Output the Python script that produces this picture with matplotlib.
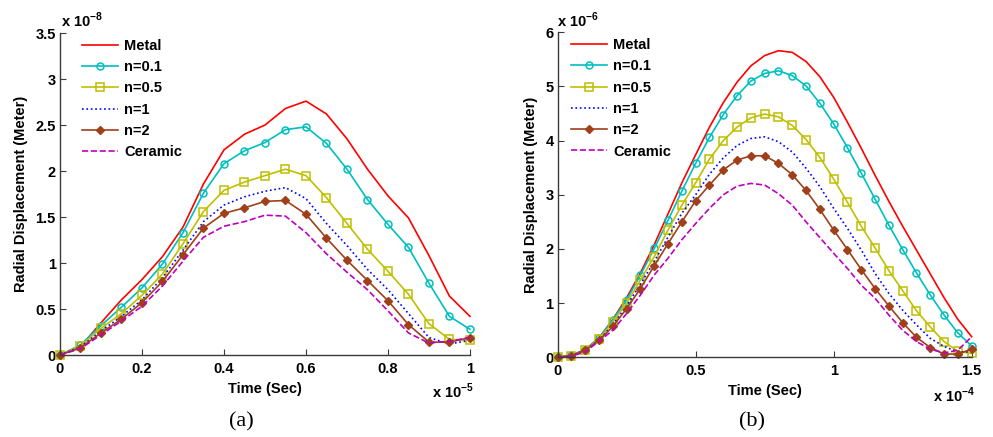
import numpy as np
import matplotlib
matplotlib.use('Agg')
import matplotlib.pyplot as plt

plt.rcParams['font.family'] = ['Liberation Sans', 'DejaVu Sans']
plt.rcParams['mathtext.fontset'] = 'custom'
plt.rcParams['mathtext.rm'] = 'Liberation Sans:bold'
plt.rcParams['mathtext.bf'] = 'Liberation Sans:bold'

# ---- data (a): time in 1e-5 s, displacement in 1e-8 m
t_a = np.round(np.arange(0, 1.0001, 0.05), 2)
metal_a = [0, 0.09, 0.35, 0.60, 0.82, 1.07, 1.39, 1.86, 2.23, 2.40, 2.50, 2.68, 2.76,
           2.62, 2.35, 2.02, 1.73, 1.49, 1.08, 0.64, 0.42]
n01_a = [0, 0.11, 0.32, 0.52, 0.73, 0.99, 1.33, 1.76, 2.08, 2.22, 2.31, 2.45, 2.48,
         2.30, 2.02, 1.69, 1.42, 1.17, 0.78, 0.42, 0.28]
n05_a = [0, 0.10, 0.29, 0.45, 0.65, 0.88, 1.21, 1.56, 1.79, 1.88, 1.95, 2.02, 1.95,
         1.71, 1.43, 1.15, 0.91, 0.66, 0.34, 0.17, 0.16]
n1_a = [0, 0.09, 0.26, 0.42, 0.60, 0.84, 1.14, 1.45, 1.63, 1.72, 1.78, 1.82, 1.70,
        1.43, 1.19, 0.93, 0.71, 0.45, 0.19, 0.12, 0.16]
n2_a = [0, 0.08, 0.24, 0.39, 0.57, 0.80, 1.09, 1.38, 1.54, 1.60, 1.67, 1.68, 1.53,
        1.27, 1.03, 0.81, 0.59, 0.33, 0.14, 0.14, 0.19]
ceramic_a = [0, 0.07, 0.22, 0.37, 0.53, 0.75, 1.02, 1.28, 1.40, 1.45, 1.52, 1.51, 1.33,
             1.10, 0.90, 0.71, 0.48, 0.24, 0.13, 0.15, 0.19]

# ---- data (b): time in 1e-4 s, displacement in 1e-6 m
t_b = np.round(np.arange(0, 1.5001, 0.05), 2)
metal_b = [0, 0.04, 0.14, 0.36, 0.70, 1.10, 1.56, 2.08, 2.65, 3.22, 3.74, 4.25, 4.70,
           5.08, 5.38, 5.57, 5.66, 5.63, 5.46, 5.18, 4.80, 4.34, 3.86, 3.36, 2.88, 2.42,
           1.98, 1.54, 1.10, 0.70, 0.38]
n01_b = [0, 0.04, 0.14, 0.35, 0.69, 1.06, 1.52, 2.01, 2.53, 3.07, 3.58, 4.06, 4.48,
         4.83, 5.10, 5.24, 5.29, 5.20, 5.01, 4.69, 4.31, 3.87, 3.40, 2.92, 2.44, 1.99,
         1.56, 1.15, 0.78, 0.45, 0.21]
n05_b = [0, 0.03, 0.13, 0.33, 0.65, 1.00, 1.43, 1.86, 2.35, 2.81, 3.22, 3.66, 4.00,
         4.25, 4.42, 4.49, 4.44, 4.28, 4.02, 3.69, 3.29, 2.86, 2.42, 2.02, 1.60, 1.23,
         0.86, 0.56, 0.29, 0.11, 0.07]
n1_b = [0, 0.03, 0.13, 0.32, 0.60, 0.95, 1.35, 1.77, 2.22, 2.66, 3.00, 3.38, 3.68,
        3.91, 4.04, 4.07, 3.98, 3.79, 3.49, 3.15, 2.75, 2.38, 1.98, 1.55, 1.18, 0.87,
        0.60, 0.35, 0.20, 0.10, 0.10]
n2_b = [0, 0.03, 0.13, 0.31, 0.57, 0.90, 1.27, 1.69, 2.10, 2.50, 2.89, 3.18, 3.46,
        3.64, 3.72, 3.72, 3.58, 3.37, 3.08, 2.73, 2.35, 1.99, 1.62, 1.27, 0.95, 0.64,
        0.37, 0.18, 0.06, 0.06, 0.15]
ceramic_b = [0, 0.02, 0.10, 0.30, 0.50, 0.81, 1.15, 1.52, 1.83, 2.17, 2.47, 2.75, 3.00,
             3.16, 3.21, 3.18, 3.02, 2.81, 2.50, 2.21, 1.92, 1.64, 1.33, 1.09, 0.78, 0.50,
             0.29, 0.15, 0.08, 0.13, 0.38]

labels = ['Metal', 'n=0.1', 'n=0.5', 'n=1', 'n=2', 'Ceramic']
styles = [
    dict(color='#ff0000', ls='-'),
    dict(color='#00bfbf', ls='-', marker='o', mfc='none', ms=5, mew=1.1),
    dict(color='#bfbf00', ls='-', marker='s', mfc='none', ms=5.5, mew=1.1),
    dict(color='#0000ff', ls=':'),
    dict(color='#a0401a', ls='-', marker='D', ms=4, mfc='#a0401a'),
    dict(color='#bf00bf', ls='--'),
]

FS = 10.5

fig = plt.figure(figsize=(9.93, 4.37), dpi=100)
ax1 = fig.add_axes([0.0604, 0.1876, 0.4129, 0.7368])
ax2 = fig.add_axes([0.5616, 0.1824, 0.4169, 0.7437])


def draw(ax, t, series, xmax, ymax, xticks, yticks, xlabels, ylabels, leg_x):
    for y, lab, st in zip(series, labels, styles):
        ax.plot(t, y, lw=1.2, label=lab, clip_on=False, **st)
    ax.set_xlim(0, xmax)
    ax.set_ylim(0, ymax)
    ax.set_xticks(xticks)
    ax.set_xticklabels(xlabels)
    ax.set_yticks(yticks)
    ax.set_yticklabels(ylabels)
    for s in ['top', 'right']:
        ax.spines[s].set_visible(False)
    for s in ['left', 'bottom']:
        ax.spines[s].set_color('#3a3a3a')
        ax.spines[s].set_linewidth(1.0)
    ax.tick_params(direction='in', length=4, width=0.8, color='#3a3a3a',
                   labelsize=FS)
    ax.tick_params(axis='x', pad=5)
    ax.tick_params(axis='y', pad=3)
    for lbl in ax.get_xticklabels() + ax.get_yticklabels():
        lbl.set_fontweight('bold')
    ax.set_xlabel('Time (Sec)', fontsize=FS, fontweight='bold', labelpad=4)
    ax.set_ylabel('Radial Displacement (Meter)', fontsize=FS, fontweight='bold', labelpad=5)
    leg = ax.legend(loc='upper left', frameon=False, fontsize=FS, handlelength=2.5,
                    handletextpad=0.4, labelspacing=0.5, borderaxespad=0.0,
                    bbox_to_anchor=(leg_x, 1.0))
    for txt in leg.get_texts():
        txt.set_fontweight('bold')


draw(ax1, t_a, [metal_a, n01_a, n05_a, n1_a, n2_a, ceramic_a], 1.0, 3.5,
     [0, 0.2, 0.4, 0.6, 0.8, 1.0], [0, 0.5, 1, 1.5, 2, 2.5, 3, 3.5],
     ['0', '0.2', '0.4', '0.6', '0.8', '1'],
     ['0', '0.5', '1', '1.5', '2', '2.5', '3', '3.5'], 0.039)
draw(ax2, t_b, [metal_b, n01_b, n05_b, n1_b, n2_b, ceramic_b], 1.5, 6,
     [0, 0.5, 1, 1.5], [0, 1, 2, 3, 4, 5, 6],
     ['0', '0.5', '1', '1.5'], ['0', '1', '2', '3', '4', '5', '6'], 0.018)

# exponent labels
for x, y, s in [(61, 27, r'x 10$^{-8}$'), (432, 398, r'x 10$^{-5}$'),
                (557, 27, r'x 10$^{-6}$'), (933, 402, r'x 10$^{-4}$')]:
    fig.text(x / 993, 1 - y / 437, s, fontsize=FS, fontweight='bold', va='baseline')

# captions
fig.text(241.5 / 993, 1 - 422 / 437, '(a)', fontsize=16, family='Liberation Serif',
         ha='center', va='center')
fig.text(752 / 993, 1 - 422 / 437, '(b)', fontsize=16, family='Liberation Serif',
         ha='center', va='center')

fig.savefig('out.png', dpi=100)
